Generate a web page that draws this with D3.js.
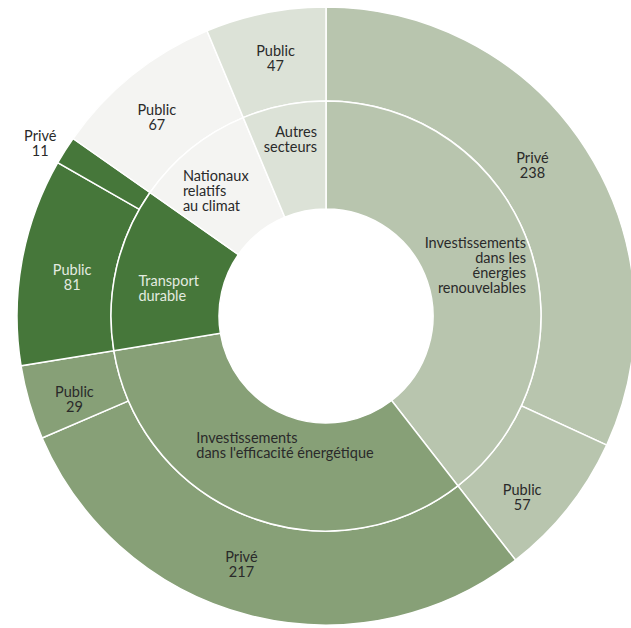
<!DOCTYPE html>
<html>
<head>
<meta charset="utf-8">
<script src="https://d3js.org/d3.v7.min.js"></script>
<style>
  body { margin: 0; background: #fff; }
  text { font-family: Lato, "Noto Sans", sans-serif; font-size: 14.5px; }
</style>
</head>
<body>
<svg id="chart"></svg>
<script>
// sectors (inner ring) and their split (outer ring)
const sectorNames = [
  ["Investissements", "dans les", "énergies", "renouvelables"],
  ["Investissements", "dans l'efficacité énergétique"],
  ["Transport", "durable"],
  ["Nationaux", "relatifs", "au climat"],
  ["Autres", "secteurs"]
];
const subLabels = [["Privé", "Public"], ["Privé", "Public"], ["Public", "Privé"], ["Public"], ["Public"]];
const subValues = [[238, 57], [217, 29], [81, 11], [67], [47]];
const sectorColors = ["#b8c5ae", "#87a077", "#46773a", "#f4f4f2", "#dce2d7"];

const width = 631, height = 628;
const cx = 326, cy = 316;
const r0 = 107, r1 = 215, r2 = 309;

const svg = d3.select("#chart").attr("width", width).attr("height", height);
const g = svg.append("g").attr("transform", `translate(${cx},${cy})`);

// inner ring
const sectors = sectorNames.map((n, i) => ({
  name: n, i: i, value: d3.sum(subValues[i])
}));
const pie = d3.pie().sort(null).value(d => d.value);
const innerArcs = pie(sectors);

// outer ring, same order so the angles line up
let subs = [];
subValues.forEach((vals, i) => {
  vals.forEach((v, j) => subs.push({ i: i, label: subLabels[i][j], value: v }));
});
const outerArcs = pie(subs);

const arcIn = d3.arc().innerRadius(r0).outerRadius(r1);
const arcOut = d3.arc().innerRadius(r1).outerRadius(r2);

g.selectAll("path.out").data(outerArcs).join("path")
  .attr("class", "out")
  .attr("d", arcOut)
  .attr("fill", d => sectorColors[d.data.i])
  .attr("stroke", "#fff").attr("stroke-width", 1.5);

g.selectAll("path.in").data(innerArcs).join("path")
  .attr("class", "in")
  .attr("d", arcIn)
  .attr("fill", d => sectorColors[d.data.i])
  .attr("stroke", "#fff").attr("stroke-width", 1.5);

// label layout (nudges from the centroid, anchors)
const innerNudge = [[-3, 1], [18, -21], [0, 8], [-9, 0], [-4, -19]];
const innerAnchor = ["end", "start", "start", "start", "end"];
const outerNudge = [[-14, -10], [-9, 18], [-19, -6], [0, 10], [4, 8], [-7, 4], [-5, 5], [1, -1]];
const lh = 15;

function textColor(i) { return i === 2 ? "#e4ebe0" : "#2a2a2a"; }

function placeBlock(lines, pos, anchor, color) {
  const t = g.append("text")
    .attr("text-anchor", anchor)
    .attr("fill", color);
  lines.forEach((s, k) => {
    t.append("tspan").attr("x", 0).attr("y", k * lh).text(s);
  });
  const bb = t.node().getBBox();
  t.attr("transform", `translate(${pos[0] - (bb.x + bb.width / 2)},${pos[1] - (bb.y + bb.height / 2)})`);
}

innerArcs.forEach((a, k) => {
  const c = arcIn.centroid(a);
  placeBlock(a.data.name, [c[0] + innerNudge[k][0], c[1] + innerNudge[k][1]],
    innerAnchor[k], textColor(a.data.i));
});

const arcLabelOut = d3.arc().innerRadius(330).outerRadius(330);
outerArcs.forEach((a, k) => {
  const small = a.value < 20 && a.data.i === 2;
  const c = small ? arcLabelOut.centroid(a) : arcOut.centroid(a);
  placeBlock([a.data.label, String(a.value)], [c[0] + outerNudge[k][0], c[1] + outerNudge[k][1]],
    "middle", small ? "#2a2a2a" : textColor(a.data.i));
});
</script>
</body>
</html>
